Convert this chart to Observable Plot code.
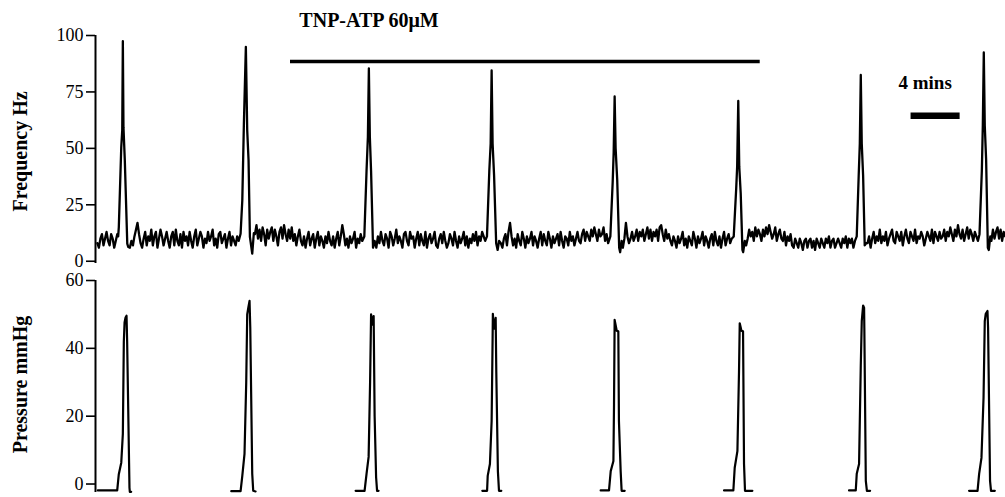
<!DOCTYPE html>
<html>
<head>
<meta charset="utf-8">
<script src="https://cdn.jsdelivr.net/npm/d3@7"></script>
<script src="https://cdn.jsdelivr.net/npm/@observablehq/plot@0.6"></script>
<style>
  html, body { margin: 0; padding: 0; background: #fff; }
  #chart { width: 1005px; height: 497px; overflow: hidden; }
  #chart svg { display: block; }
  #chart svg [aria-label^="y-axis"] { stroke-width: 1.6px; }
</style>
</head>
<body>
<div id="chart"></div>
<script>
// ---------- DATA ----------
// time in minutes; frequency in Hz; pressure in mmHg
const freqSegStart = [0.15, 2.8, 13.0, 22.9, 33.05, 43.0, 53.05, 62.95, 73.05];
const freqStep = 0.125;

const freqNoise0 = [8,6,10,12,7,10,13,9,7,12,10,6,9,12];
const freqNoise1 = [6,9,7,11,14,17,12,8,6,10,13,7,11,9,14,7,11,13,6,10,
  14,11,7,10,13,9,6,11,13,7,14,9,7,12,6,13,9,11,7,13,
  9,6,11,14,7,10,13,11,6,10,8,13,9,11,14,7,10,6,12,13,
  8,10,12,6,10,13,7,11,9,7,11,9];
const freqNoise2 = [12,16,10,14,9,15,12,7,14,10,13,15,9,14,11,7,13,15,10,16,
  12,9,14,10,15,9,12,7,11,14,9,7,11,6,10,13,7,10,12,6,
  10,13,7,11,9,6,11,8,13,9,7,11,6,10,13,7,11,16,12,7,
  10,6,11,8,10,13,6,10,8,12,9];
const freqNoise3 = [6,11,8,13,9,7,12,10,6,13,11,7,10,14,8,11,9,6,12,13,
  9,7,13,10,11,6,10,13,7,12,9,7,13,6,10,12,8,10,13,7,
  6,10,12,8,13,9,6,8,12,10,7,13,9,6,11,8,10,13,7,11,
  6,10,8,12,9,13,7,11,9,13,11,9];
const freqNoise4 = [8,6,10,12,7,13,17,11,7,10,6,12,9,7,13,10,6,11,8,10,
  13,7,11,9,6,10,13,7,12,9,7,13,10,6,11,8,10,12,7,13,
  9,6,11,10,7,13,9,11,7,10,13,9,8,12,14,9,13,11,9,14,
  11,15,12,9,14,11,12,15,9,12,8];
const freqNoise5 = [6,10,17,11,8,10,13,9,11,14,9,13,11,14,9,12,15,10,14,9,
  13,11,14,9,15,16,12,9,14,10,12,9,7,11,9,6,11,8,10,13,
  7,10,6,11,9,7,13,10,6,11,8,10,13,7,11,9,6,10,12,7,
  13,9,7,11,6,10,13,7,10,12,8,10];
const freqNoise6 = [7,10,14,11,13,9,15,11,14,12,9,14,11,15,12,16,13,10,12,15,
  9,12,14,10,9,13,7,11,9,12,7,6,10,8,6,10,8,5,9,10,
  6,9,10,6,9,5,10,8,6,10,8,6,10,8,11,6,9,10,6,8,
  10,8,6,10,8,11,6,10,8,10,6,9];
const freqNoise7 = [8,11,6,10,13,8,11,9,14,8,11,9,13,7,10,12,14,9,8,13,
  11,9,13,7,11,14,10,8,13,11,9,14,8,11,10,13,11,7,10,13,
  11,9,14,8,13,11,9,13,10,11,14,9,13,11,15,12,9,14,11,16,
  12,10,14,9,12,15,10,14,12,9,13,11,9];
const freqNoise8 = [9,14,10,13,15,10,14,9,13,11];
const freqNoise = [freqNoise0, freqNoise1, freqNoise2, freqNoise3, freqNoise4,
                   freqNoise5, freqNoise6, freqNoise7, freqNoise8];

const freqPeak1 = [[1.85,11],[1.90,15],[2.10,50.5],[2.18,58],[2.23,97.5],[2.28,59.4],[2.39,44.7],[2.59,7.8],[2.67,6.3]];
const freqPeak2 = [[11.83,12.2],[11.97,27],[12.10,61],[12.26,95],[12.37,58],[12.48,44.7],[12.59,10.8],[12.78,3.4],[12.91,12.4]];
const freqPeak3 = [[21.92,11],[22.10,40],[22.21,55],[22.29,85.4],[22.37,55],[22.47,40],[22.63,6],[22.76,9]];
const freqPeak4 = [[31.92,11],[32.11,40],[32.22,52],[32.30,84.5],[32.38,52],[32.50,38],[32.67,8],[32.79,5],[32.91,9]];
const freqPeak5 = [[41.98,11],[42.17,35],[42.25,48],[42.33,73],[42.41,50],[42.54,36],[42.70,6],[42.78,4],[42.90,9]];
const freqPeak6 = [[52.04,11],[52.24,32],[52.32,42],[52.41,71],[52.49,42],[52.61,30],[52.75,5],[52.81,4],[52.94,9]];
const freqPeak7 = [[62.07,11],[62.23,38],[62.32,52],[62.40,82.5],[62.48,52],[62.59,38],[62.72,7],[62.85,8]];
const freqPeak8 = [[72.08,12],[72.27,40],[72.35,60],[72.43,92.5],[72.51,60],[72.62,45],[72.76,6],[72.84,5],[72.96,11]];
const freqPeaks = [freqPeak1, freqPeak2, freqPeak3, freqPeak4, freqPeak5, freqPeak6, freqPeak7, freqPeak8];

const pressBurst1 = [[0.19,-1.9],[1.77,-1.9],[1.90,2.9],[2.10,6.3],[2.23,14.8],[2.31,42],[2.37,47.6],[2.45,49.1],[2.53,49.6],[2.58,42],[2.77,-1.1],[2.80,-2.3],[2.91,-2.3]];
const pressBurst2 = [[11.07,-2.1],[11.83,-2.1],[11.97,2.4],[12.15,8.9],[12.29,30],[12.37,50],[12.46,52],[12.56,54],[12.62,46],[12.78,3],[12.86,-2],[13.05,-2.2]];
const pressBurst3 = [[21.21,-2],[21.94,-2],[22.10,3],[22.27,8],[22.39,30],[22.47,50],[22.59,47],[22.68,49.5],[22.76,20],[22.88,2],[22.96,-2],[23.08,-2]];
const pressBurst4 = [[31.54,-2],[31.93,-2],[31.98,2.4],[32.16,5.9],[32.30,18.6],[32.38,43],[32.40,50.2],[32.49,45.8],[32.63,49],[32.68,33],[32.81,3.8],[32.90,-2],[33.09,-2]];
const pressBurst5 = [[41.19,-1.9],[41.87,-1.9],[42.01,3.8],[42.23,6.8],[42.28,23.6],[42.33,48.4],[42.50,45.2],[42.63,45],[42.68,18.6],[42.82,3.8],[42.90,-2],[43.15,-2]];
const pressBurst6 = [[51.25,-1.9],[52.01,-1.9],[52.12,4.8],[52.34,9.7],[52.47,33],[52.53,47.4],[52.67,45.2],[52.80,45],[52.88,5.9],[52.96,-2],[53.56,-2]];
const pressBurst7 = [[61.44,-1.9],[61.99,-1.9],[62.07,3],[62.26,5.9],[62.40,35],[62.48,48],[62.59,52.6],[62.67,52],[62.69,46],[62.81,0.9],[62.90,-2],[63.16,-2]];
const pressBurst8 = [[71.23,-2],[71.92,-2],[72.05,3],[72.24,7.7],[72.41,25.5],[72.51,48],[72.59,50.2],[72.73,51],[72.78,46],[72.94,0.9],[73.02,-2],[73.33,-2]];
const pressBursts = [pressBurst1, pressBurst2, pressBurst3, pressBurst4, pressBurst5, pressBurst6, pressBurst7, pressBurst8];

const freqTicks = [0, 25, 50, 75, 100];
const pressTicks = [0, 20, 40, 60];
const drugLabel = "TNP-ATP 60\u03BCM";
const drugPeriod = [15.9, 54.2];
const drugBarLevel = 88.5;
const scaleLabel = "4 mins";
const scaleBar = [66.5, 70.5];
const scaleBarLevel = 64.5;
const timeDomain = [0, 74.2];

// ---------- BUILD ----------
const peakWindows = freqPeaks.map(p => [p[0][0], p[p.length - 1][0]]);
const freqPoints = [];
freqNoise.forEach((arr, k) => {
  arr.forEach((v, i) => {
    const t = freqSegStart[k] + i * freqStep;
    if (!peakWindows.some(([a, b]) => t >= a - 0.02 && t <= b + 0.02)) freqPoints.push({t, v});
  });
});
freqPeaks.forEach(p => p.forEach(([t, v]) => freqPoints.push({t, v})));
freqPoints.sort((a, b) => a.t - b.t);

const pressPoints = [];
pressBursts.forEach((b, k) => b.forEach(([t, v]) => pressPoints.push({t, v, burst: k})));

const serif = "'Liberation Serif', 'Times New Roman', Times, serif";
const baseStyle = {fontFamily: serif, fontSize: "18px", color: "#000", background: "#fff", overflow: "visible"};

const freqPlot = Plot.plot({
  width: 1005, height: 268,
  marginLeft: 95, marginRight: 0, marginTop: 35, marginBottom: 5,
  style: baseStyle,
  x: {domain: timeDomain, axis: null},
  y: {domain: [-1, 100], ticks: freqTicks, tickSize: 9, tickPadding: 3, label: null, tickFormat: d => String(d)},
  marks: [
    Plot.ruleX([0], {y1: -1, y2: 100, stroke: "#000", strokeWidth: 2}),
    Plot.line(freqPoints, {x: "t", y: "v", stroke: "#000", strokeWidth: 2.3, strokeLinejoin: "round"}),
    Plot.ruleY([drugBarLevel], {x1: drugPeriod[0], x2: drugPeriod[1], stroke: "#000", strokeWidth: 3.5}),
    Plot.text([drugLabel], {x: 22.3, y: 106.7, text: d => d, fontWeight: "bold", fontSize: 20, fill: "#000"}),
    Plot.ruleY([scaleBarLevel], {x1: scaleBar[0], x2: scaleBar[1], stroke: "#000", strokeWidth: 6.5}),
    Plot.text([scaleLabel], {x: 67.65, y: 79.2, text: d => d, fontWeight: "bold", fontSize: 19, fill: "#000"}),
    Plot.text(["Frequency Hz"], {frameAnchor: "left", textAnchor: "middle", dx: -75, dy: 2, rotate: -90, text: d => d, fontWeight: "bold", fontSize: 20, fill: "#000"})
  ]
});

const pressPlot = Plot.plot({
  width: 1005, height: 229,
  marginLeft: 95, marginRight: 0, marginTop: 12, marginBottom: 5,
  style: baseStyle,
  x: {domain: timeDomain, axis: null},
  y: {domain: [-2.5, 60], ticks: pressTicks, tickSize: 9, tickPadding: 3, label: null, tickFormat: d => String(d)},
  marks: [
    Plot.ruleX([0], {y1: -2.5, y2: 60, stroke: "#000", strokeWidth: 2}),
    Plot.line(pressPoints, {x: "t", y: "v", z: "burst", stroke: "#000", strokeWidth: 2.2}),
    Plot.text(["Pressure mmHg"], {frameAnchor: "left", textAnchor: "middle", dx: -75, dy: -2, rotate: -90, text: d => d, fontWeight: "bold", fontSize: 20, fill: "#000"})
  ]
});

const chartEl = document.getElementById("chart");
chartEl.appendChild(freqPlot);
chartEl.appendChild(pressPlot);
</script>
</body>
</html>
